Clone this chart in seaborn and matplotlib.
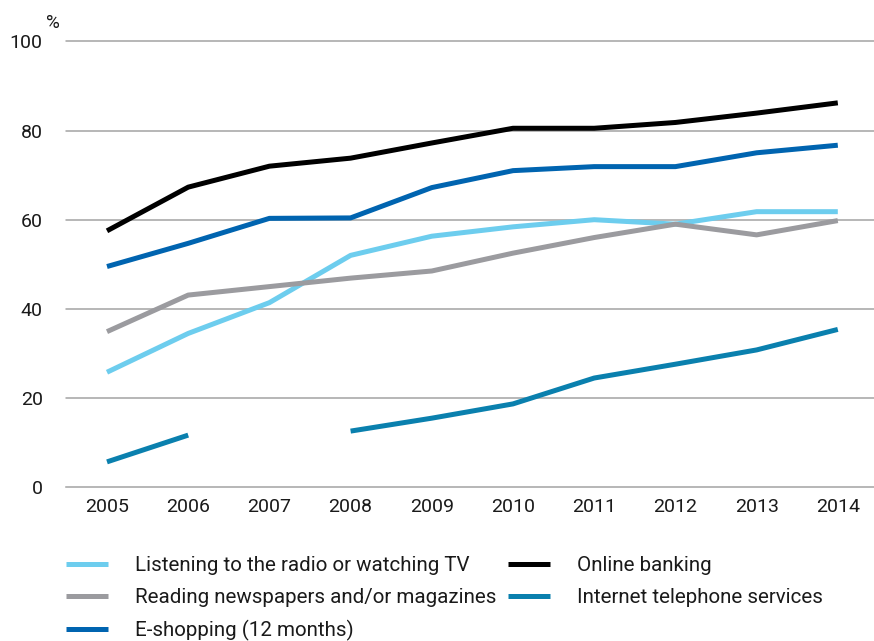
import numpy as np
import pandas as pd
import matplotlib
matplotlib.use("Agg")
import matplotlib.pyplot as plt
from matplotlib import font_manager
from matplotlib.lines import Line2D
from matplotlib.ticker import FixedLocator
import seaborn as sns

# Share of internet users by activity, %
years = [2005, 2006, 2007, 2008, 2009, 2010, 2011, 2012, 2013, 2014]
radio_tv = [25.8, 34.5, 41.4, 52.0, 56.3, 58.4, 60.0, 59.0, 61.8, 61.8]
newspapers = [34.9, 43.1, 45.0, 46.9, 48.5, 52.5, 56.0, 59.0, 56.6, 59.8]
e_shopping = [49.5, 54.7, 60.3, 60.4, 67.2, 71.0, 71.9, 71.9, 75.0, 76.7]
online_banking = [57.5, 67.3, 72.0, 73.8, 77.2, 80.5, 80.5, 81.8, 83.9, 86.2]
internet_phone = [5.7, 11.7, np.nan, 12.6, 15.5, 18.7, 24.5, 27.6, 30.8, 35.4]

series_names = [
    "Listening to the radio or watching TV",
    "Reading newspapers and/or magazines",
    "E-shopping (12 months)",
    "Online banking",
    "Internet telephone services",
]
series_values = [radio_tv, newspapers, e_shopping, online_banking, internet_phone]
colors = ["#6dcdee", "#9b9b9f", "#0064b0", "#000000", "#0a80ae"]
y_ticks = [0, 20, 40, 60, 80, 100]

# long-form table; a missing year splits a series into separate segments
rows = []
for name, vals in zip(series_names, series_values):
    seg = 0
    for yr, v in zip(years, vals):
        if np.isnan(v):
            seg += 1
            continue
        rows.append({"year": yr, "value": v, "series": name, "segment": f"{name}-{seg}"})
df = pd.DataFrame(rows)

sns.set_theme(style="white")
installed = {f.name for f in font_manager.fontManager.ttflist}
main_font = "Roboto" if "Roboto" in installed else "DejaVu Sans"
plt.rcParams["font.family"] = [main_font, "DejaVu Sans"]

W, H = 874, 641
fig = plt.figure(figsize=(W / 100, H / 100), dpi=100)
left_px, bottom_px, top_px = 66.4, 487.3, 41.3
width_px = 81.2 * 10
ax = fig.add_axes([left_px / W, 1 - bottom_px / H, width_px / W, (bottom_px - top_px) / H])

palette = dict(zip(series_names, colors))
sns.lineplot(
    data=df, x="year", y="value", hue="series", units="segment", estimator=None,
    palette=palette, linewidth=3.6, legend=False, ax=ax, solid_capstyle="butt",
)

ax.set_xlim(2004.5, 2014.5)
ax.set_ylim(0, 100)
ax.set_xlabel("")
ax.set_ylabel("")

# horizontal grid
for y in y_ticks[1:]:
    ax.axhline(y, color="#a3a3a3", linewidth=1.1, zorder=0, clip_on=False)

for s in ["top", "right", "left"]:
    ax.spines[s].set_visible(False)
ax.spines["bottom"].set_color("#a3a3a3")
ax.spines["bottom"].set_linewidth(1.1)

ax.set_yticks(y_ticks)
ax.set_yticklabels([str(t) for t in y_ticks])
ax.set_xticks(years)
ax.set_xticklabels([str(y) for y in years])
ax.xaxis.set_minor_locator(FixedLocator([y - 0.5 for y in years]))
ax.tick_params(axis="x", which="major", length=0, pad=8, labelsize=14, labelcolor="#1a1a1a")
ax.tick_params(axis="x", which="minor", length=7.5, width=1.1, color="#a3a3a3", direction="out")
ax.tick_params(axis="y", length=0, pad=17, labelsize=14, labelcolor="#1a1a1a")

fig.text(46 / W, 1 - 23 / H, "%", fontsize=13.5, color="#1a1a1a", va="center", ha="left")

handles = [Line2D([0], [0], color=c, linewidth=3.6, solid_capstyle="butt") for c in colors]
fs = 14.8
px_per_em = fs * 100 / 72
leg_kw = dict(
    frameon=False, loc="upper left", handlelength=42 / px_per_em, handletextpad=27 / px_per_em,
    labelspacing=0.62, borderpad=0, borderaxespad=0,
    prop={"family": main_font, "size": fs},
)
leg1 = fig.legend(handles[:3], series_names[:3], bbox_to_anchor=(66 / W, 1 - 556 / H), **leg_kw)
leg2 = fig.legend(handles[3:], series_names[3:], bbox_to_anchor=(508 / W, 1 - 556 / H), **leg_kw)
for leg in (leg1, leg2):
    for t in leg.get_texts():
        t.set_color("#1a1a1a")

fig.savefig("out.png", dpi=100)
